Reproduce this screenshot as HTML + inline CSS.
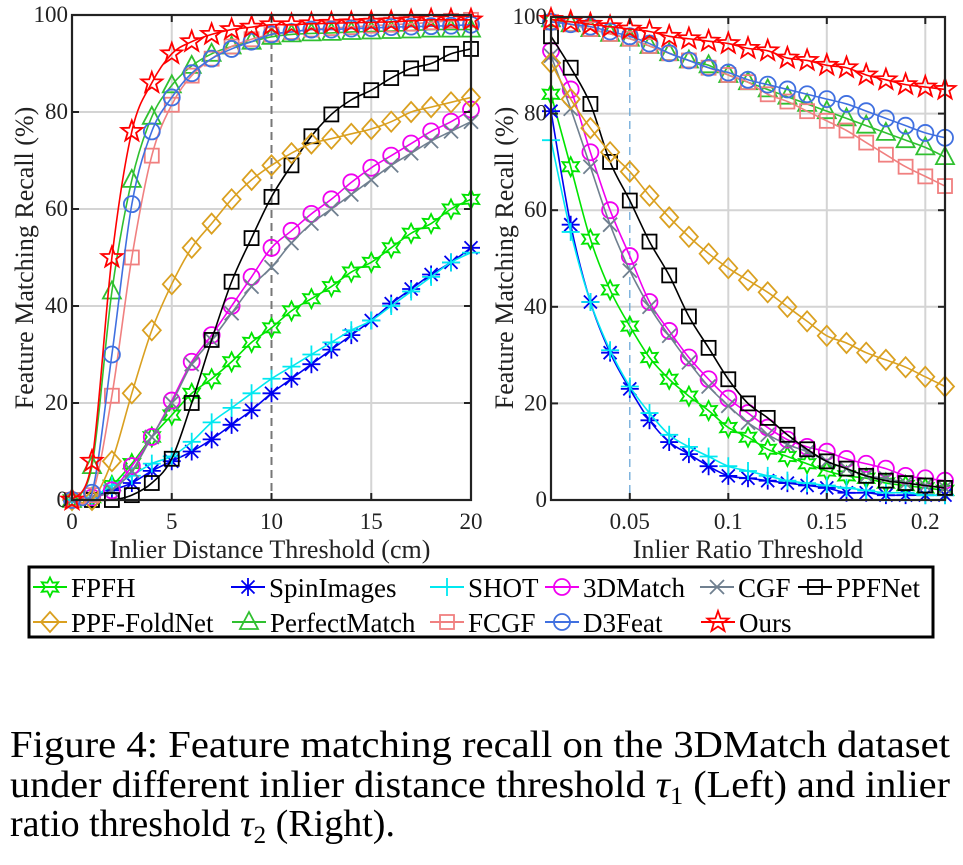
<!DOCTYPE html>
<html><head><meta charset="utf-8"><style>
html,body{margin:0;padding:0;background:#fff;}
svg{display:block;}
svg text{font-family:"Liberation Serif","Times New Roman",serif;}
</style></head><body>
<svg id="fig" width="963" height="865" viewBox="0 0 963 865"></svg>
<script>
const NS="http://www.w3.org/2000/svg";
const leftX=[0,1,2,3,4,5,6,7,8,9,10,11,12,13,14,15,16,17,18,19,20];
const rightX=[0.01,0.02,0.03,0.04,0.05,0.06,0.07,0.08,0.09,0.10,0.11,0.12,0.13,0.14,0.15,0.16,0.17,0.18,0.19,0.20,0.21];
const leftXTicks=[0,5,10,15,20];
const rightXTicks=[0.05,0.1,0.15,0.2];
const rightXTickLabels=["0.05","0.1","0.15","0.2"];
const yTicks=[0,20,40,60,80,100];
const seriesNames=["FPFH","SpinImages","SHOT","3DMatch","CGF","PPFNet","PPF-FoldNet","PerfectMatch","FCGF","D3Feat","Ours"];
const L_FPFH=[0,0.5,3,7.5,13,17.5,22,25,28.5,32.5,35.5,39,41.5,44,47,49,52,55,57,60,62];
const L_Spin=[0,0.5,2,3.5,6,8,10,12.5,15.5,18.5,22,25,28,31,34,37,40.5,43.5,46.5,49,52];
const L_SHOT=[0,0.5,3,5,7.5,9,12,16,19,22,25,27.5,30,32.5,35,37,40,43,46,49,51];
const L_3DM=[0,0.5,2,7,13,20.5,28.5,34,40,46,52,55.5,59,62,65.5,68.5,71,73.5,76,78,80.5];
const L_CGF=[0,0.5,2,6,13,20,28,33,38.5,44,48,53,57,60,63,66,69,71.5,74,76,78];
const L_PPFNet=[0,0,0,1,3.5,8.5,20,33,45,54,62.5,69,75,79.5,82.5,84.5,87,89,90,92,93];
const L_Fold=[0,0,8,22,35,44.5,52,57,62,66,69,71.5,73.5,74.5,75.5,76.5,78,80,81,82,83];
const L_PM=[0,7,43,66,79,85.5,89.5,92,93.5,94.5,95.5,96,96.2,96.3,96.5,96.6,96.7,96.8,97,97,97];
const L_FCGF=[0,1,21.5,50,71,81.5,87.5,91,93.5,95,96,96.5,97,97.3,97.5,97.8,98,98.2,98.5,98.8,99];
const L_D3=[0,1.5,30,61,76,83,88,91,93,94.5,96,96.5,97,97,97.2,97.3,97.5,97.6,97.7,97.8,98];
const L_Ours=[0,8,50,76,86,92,94.5,96,97,97.5,98,98,98.2,98.3,98.4,98.5,98.6,98.8,99,99,99];
const R_FPFH=[84,69,54,43.5,36,29.5,25,21.5,18.5,15,13,10.5,9,7.5,6,5,4.5,3.5,3,2.5,2];
const R_Spin=[80.5,57,41,30.5,23,16.5,12,9.5,7,5,4.5,4,3.5,3,2.5,1.5,1.5,1,1,1,1];
const R_SHOT=[74.5,55.5,41,31,23.5,18,13.5,11,9,7,6,5,4,3.5,3,2.5,2,1.5,1.5,1,1];
const R_3DM=[93,85,72,60,50.5,41,35,29.5,25,21,18,15,12.5,11,10,8.5,7.5,6.5,5,4.5,4];
const R_CGF=[92,81,69,57,47.5,40,34,28.5,23.5,19.5,16,13.5,11.5,10,8,6.5,5,4.5,3.5,3,2.5];
const R_PPFNet=[96,89.5,82,70,62,53.5,46.5,38,31.5,25,20,17,13.5,10.5,8,6.5,5,4,3.5,3,2.5];
const R_Fold=[90.5,83,77,72,68,63,58.5,54.5,51,48,45.5,43,40,37,34,32.5,30.5,29,27.5,25.5,23.5];
const R_PM=[99.5,98.5,97.5,96.5,95.5,94,92.5,91,90,88,86.5,85,83.5,82,80.5,79,77.5,76,74.5,73,71];
const R_FCGF=[99,98.5,97.5,96.5,95.5,94,92.5,91,89.5,88,86.5,84,82.5,80.5,78.5,76.5,74,71.5,69,67,65];
const R_D3=[99,98.5,98,97,96,94.5,92.5,91,89.5,88.5,87,86,85,84,83,82,80.5,79,77.5,76,75];
const R_Ours=[99.5,99,98.5,98,97.5,97,96,95.5,95,94.5,93.5,93,91.5,91,90,89.5,88,87,86,85.5,85];

const FONT='Liberation Serif, Times New Roman, serif';
const styles={
 "FPFH":{c:"#00e400",m:"hex"},"SpinImages":{c:"#0000f0",m:"ast"},"SHOT":{c:"#00e8f0",m:"plus"},
 "3DMatch":{c:"#f000f0",m:"circ"},"CGF":{c:"#708090",m:"x"},"PPFNet":{c:"#000",m:"sq"},
 "PPF-FoldNet":{c:"#daa020",m:"dia"},"PerfectMatch":{c:"#30c030",m:"tri"},"FCGF":{c:"#f08080",m:"sq"},
 "D3Feat":{c:"#4070e0",m:"circ"},"Ours":{c:"#ff0000",m:"pent"}};
const svg=document.getElementById("fig");
function el(tag,attrs,parent){const e=document.createElementNS(NS,tag);for(const k in attrs)e.setAttribute(k,attrs[k]);(parent||svg).appendChild(e);return e;}
function txt(s,attrs,parent){attrs["font-family"]=FONT;const t=el("text",attrs,parent);t.textContent=s;return t;}
function pts(arr){return arr.map(p=>p[0].toFixed(1)+","+p[1].toFixed(1)).join(" ");}
function marker(type,x,y,c,g){
 const a={fill:"none",stroke:c,"stroke-width":1.8};
 let m;
 if(type==="circ"){m=el("circle",Object.assign({cx:x,cy:y,r:8},a),g);}
 else if(type==="sq"){m=el("rect",Object.assign({x:x-7,y:y-7,width:14,height:14},a),g);}
 else if(type==="dia"){m=el("polygon",Object.assign({points:pts([[x,y-10],[x+9,y],[x,y+10],[x-9,y]])},a),g);}
 else if(type==="tri"){m=el("polygon",Object.assign({points:pts([[x,y-10],[x+9,y+7],[x-9,y+7]])},a),g);}
 else if(type==="hex"){const p=[];for(let i=0;i<12;i++){const r=i%2?5:9.5;const an=-Math.PI/2+i*Math.PI/6;p.push([x+r*Math.cos(an),y+r*Math.sin(an)]);}m=el("polygon",Object.assign({points:pts(p)},a),g);}
 else if(type==="pent"){const p=[];for(let i=0;i<10;i++){const r=i%2?4.5:11;const an=-Math.PI/2+i*Math.PI/5;p.push([x+r*Math.cos(an),y+r*Math.sin(an)]);}m=el("polygon",Object.assign({points:pts(p)},a),g);}
 else if(type==="plus"){m=el("path",Object.assign({d:`M${x-9},${y}H${x+9}M${x},${y-9}V${y+9}`},a),g);}
 else if(type==="x"){m=el("path",Object.assign({d:`M${x-7},${y-7}L${x+7},${y+7}M${x-7},${y+7}L${x+7},${y-7}`},a),g);}
 else if(type==="ast"){m=el("path",Object.assign({d:`M${x-9},${y}H${x+9}M${x},${y-9}V${y+9}M${x-6.5},${y-6.5}L${x+6.5},${y+6.5}M${x-6.5},${y+6.5}L${x+6.5},${y-6.5}`},a),g);}
 return m;
}
function smooth(p){let d="M"+p[0][0]+","+p[0][1];for(let i=0;i<p.length-1;i++){const p0=p[i-1]||p[i],p1=p[i],p2=p[i+1],p3=p[i+2]||p2;
 d+=` C${p1[0]+(p2[0]-p0[0])/6},${p1[1]+(p2[1]-p0[1])/6} ${p2[0]-(p3[0]-p1[0])/6},${p2[1]-(p3[1]-p1[1])/6} ${p2[0]},${p2[1]}`;}return d;}

function panel(opt){
 const g=el("g",{});
 
 
 const sx=v=>opt.x0+(v-opt.xmin)/(opt.xmax-opt.xmin)*(opt.x1-opt.x0);
 const sy=v=>opt.yb-(v/100)*(opt.yb-opt.yt);
 const grid=el("g",{},g);
 
 
 yTicks.forEach(t=>{if(t>0&&t<100)el("line",{x1:opt.x0,x2:opt.x1,y1:sy(t),y2:sy(t),stroke:"#d4d4d4","stroke-width":2},grid);});
 opt.xt.forEach(t=>{const X=sx(t);if(X>opt.x0+2&&X<opt.x1-2){
   if(t===opt.dash)el("line",{x1:X,x2:X,y1:opt.yt,y2:opt.yb,stroke:opt.dashColor,"stroke-width":opt.dashW,"stroke-dasharray":"8,5"},grid);
   else el("line",{x1:X,x2:X,y1:opt.yt,y2:opt.yb,stroke:"#d4d4d4","stroke-width":2},grid);}});
 opt.series.forEach((arr,i)=>{
   const nm=seriesNames[i],st=styles[nm];
   const sg=el("g",{},g);
   
   
   const p=arr.map((v,j)=>[sx(opt.xs[j]),sy(v)]);
   el("path",{d:smooth(p),fill:"none",stroke:st.c,"stroke-width":1.6},sg);
   p.forEach(q=>marker(st.m,q[0],q[1],st.c,sg));
 });
 el("rect",{x:opt.x0,y:opt.yt,width:opt.x1-opt.x0,height:opt.yb-opt.yt,fill:"none",stroke:"#222","stroke-width":2.2},g);
 yTicks.forEach(t=>{
   el("line",{x1:opt.x0,x2:opt.x0+7,y1:sy(t),y2:sy(t),stroke:"#222","stroke-width":2},g);
   el("line",{x1:opt.x1,x2:opt.x1-7,y1:sy(t),y2:sy(t),stroke:"#222","stroke-width":2},g);
   const tl=txt(String(t),{x:opt.x0-4,y:sy(t)+7,"text-anchor":"end","font-size":23,fill:"#222"},g);
   
   
 });
 opt.xt.forEach((t,i)=>{
   const X=sx(t);
   el("line",{x1:X,x2:X,y1:opt.yb,y2:opt.yb-7,stroke:"#222","stroke-width":2},g);
   el("line",{x1:X,x2:X,y1:opt.yt,y2:opt.yt+7,stroke:"#222","stroke-width":2},g);
   const tl=txt(opt.xtl[i],{x:X,y:opt.yb+29,"text-anchor":"middle","font-size":23,fill:"#222"},g);
   
   
 });
 const xt=txt(opt.xtitle,{x:opt.xtx,y:558,"text-anchor":"middle","font-size":26,fill:"#222"},g);
 
 
 const yt=txt("Feature Matching Recall (%)",{x:0,y:0,"text-anchor":"middle","font-size":26,fill:"#222",transform:`translate(${opt.ytx},258) rotate(-90)`},g);
 
 
}
panel({name:"left-chart",x0:72,x1:471,yt:15,yb:500,xmin:0,xmax:20,xs:leftX,xt:leftXTicks,xtl:leftXTicks.map(String),dash:10,dashColor:"#777",dashW:2,
 xtitle:"Inlier Distance Threshold (cm)",xtx:270,ytx:33,
 series:[L_FPFH,L_Spin,L_SHOT,L_3DM,L_CGF,L_PPFNet,L_Fold,L_PM,L_FCGF,L_D3,L_Ours]});
panel({name:"right-chart",x0:551,x1:945,yt:17,yb:500,xmin:0.01,xmax:0.21,xs:rightX,xt:rightXTicks,xtl:rightXTickLabels,dash:0.05,dashColor:"#6aa8d8",dashW:1.3,
 xtitle:"Inlier Ratio Threshold",xtx:748,ytx:513,
 series:[R_FPFH,R_Spin,R_SHOT,R_3DM,R_CGF,R_PPFNet,R_Fold,R_PM,R_FCGF,R_D3,R_Ours]});

const lg=el("g",{});


el("rect",{x:29,y:567,width:904,height:70,fill:"#fff",stroke:"#000","stroke-width":3},lg);
const legendPos=[[50,587],[248,587],[447,587],[562,587],[717,587],[815,587],[50,622],[249,622],[447,622],[562,622],[718,622]];
seriesNames.forEach((nm,i)=>{
 const st=styles[nm],[x,y]=legendPos[i];
 const e=el("g",{},lg);
 
 
 el("line",{x1:x-17,x2:x+17,y1:y,y2:y,stroke:st.c,"stroke-width":2},e);
 marker(st.m,x,y,st.c,e);
 txt(nm,{x:x+21,y:y+10,"font-size":27,fill:"#000"},e);
});

const cap=el("g",{});


txt("Figure 4: Feature matching recall on the 3DMatch dataset",{x:10,y:757,"font-size":38,textLength:940,lengthAdjust:"spacingAndGlyphs",fill:"#000"},cap);
const l2=txt("",{x:10,y:797,"font-size":38,textLength:940,lengthAdjust:"spacingAndGlyphs",fill:"#000"},cap);
l2.innerHTML='under different inlier distance threshold <tspan font-style="italic">τ</tspan><tspan font-size="25" dy="7">1</tspan><tspan dy="-7"> (Left) and inlier</tspan>';
const l3=txt("",{x:10,y:836,"font-size":38,fill:"#000"},cap);
l3.innerHTML='ratio threshold <tspan font-style="italic">τ</tspan><tspan font-size="25" dy="7">2</tspan><tspan dy="-7"> (Right).</tspan>';
</script>
</body></html>
